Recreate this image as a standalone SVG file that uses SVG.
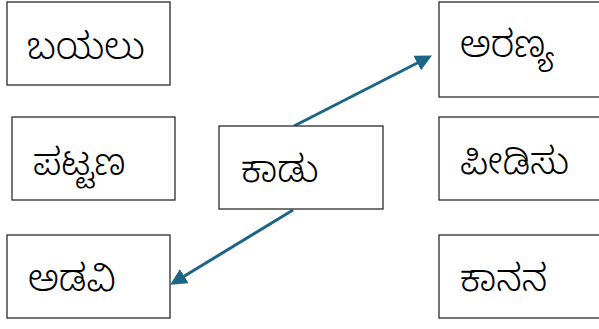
<svg xmlns="http://www.w3.org/2000/svg" width="599" height="329" viewBox="0 0 599 329">
<style>
.box{fill:#fff;stroke:#2b2b2b;stroke-width:1.3}
.t{font-family:"Noto Sans Kannada","Tunga","Nirmala UI","Noto Sans","DejaVu Sans",sans-serif;font-size:37px;font-weight:300;fill:#000}
.c{stroke:#1d6585;stroke-width:3;fill:none;marker-end:url(#ah)}
</style>
<defs>
<marker id="ah" viewBox="0 0 10 10" refX="8" refY="5" markerWidth="5.5" markerHeight="5.5" orient="auto" markerUnits="strokeWidth">
<path d="M0,0 L10,5 L0,10 z" fill="#1d6585"/>
</marker>
</defs>
<g id="connectors">
<line class="c" x1="294" y1="126" x2="429" y2="57"/>
<line class="c" x1="293" y1="210" x2="173" y2="283"/>
</g>
<g id="n1"><rect class="box" x="7" y="2" width="163" height="83"/><text class="t" x="27" y="59">ಬಯಲು</text></g>
<g id="n2"><rect class="box" x="12" y="117" width="163" height="83"/><text class="t" x="33" y="175">ಪಟ್ಟಣ</text></g>
<g id="n3"><rect class="box" x="7" y="235" width="163" height="83"/><text class="t" x="28" y="291">ಅಡವಿ</text></g>
<g id="n4"><rect class="box" x="219" y="126" width="164" height="83"/><text class="t" x="241" y="182">ಕಾಡು</text></g>
<g id="n5"><rect class="box" x="439" y="2" width="164" height="95"/><text class="t" x="460" y="57">ಅರಣ್ಯ</text></g>
<g id="n6"><rect class="box" x="439" y="117" width="164" height="83"/><text class="t" x="460" y="174">ಪೀಡಿಸು</text></g>
<g id="n7"><rect class="box" x="439" y="235" width="164" height="83"/><text class="t" x="460" y="291">ಕಾನನ</text></g>
</svg>
